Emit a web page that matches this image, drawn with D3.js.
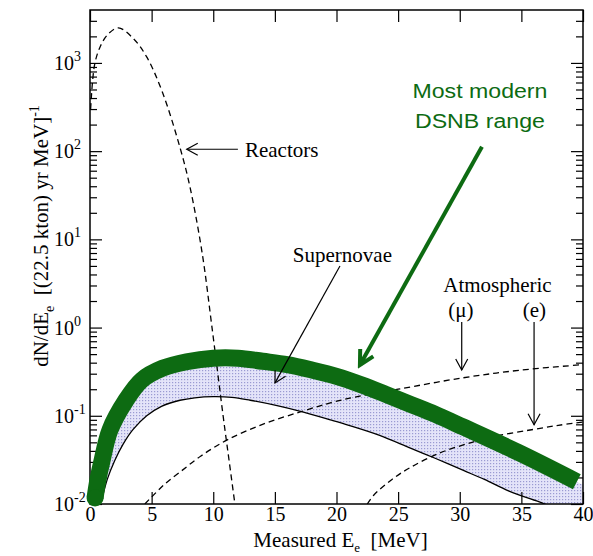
<!DOCTYPE html>
<html><head><meta charset="utf-8">
<script src="https://cdn.jsdelivr.net/npm/d3@7"></script>
<style>body{margin:0;background:#fff}</style>
</head><body><svg id="c" width="593" height="556"></svg>
<script>
// ---- data ----
const xTicks = [0,5,10,15,20,25,30,35,40];
const yTickExps = [-2,-1,0,1,2,3];

const reactorE = [0.05,0.2,0.4,0.8,1.4,2.3,3.5,4.6,5.9,7.3,8.1,9.1,9.9,10.8,11.3,11.8];
const reactorV = [300,600,1000,1500,2070,2500,1900,1170,456,110,40,7,1,0.1,0.03,0.009];

const atmMuE = [4.45,5,6,7.3,9,11.1,14,17,19.5,21.6,25,30.3,35,40];
const atmMuV = [0.01,0.012,0.0165,0.023,0.035,0.053,0.08,0.11,0.14,0.164,0.2,0.27,0.33,0.38];

const atmEE = [22.5,23,24.5,26,28.4,31,33,35.7,38,40];
const atmEV = [0.01,0.0125,0.019,0.026,0.038,0.05,0.059,0.069,0.078,0.085];

const snLowE = [0.95,1.4,2,2.7,3.5,4.6,5.8,7.3,8.5,10,11.5,13,15,17,19.5,21,23.5,26,28,30.3,32,34,36.9,40];
const snLowV = [0.011,0.019,0.031,0.048,0.07,0.1,0.128,0.15,0.16,0.165,0.162,0.15,0.132,0.113,0.09,0.078,0.06,0.043,0.033,0.024,0.019,0.014,0.01,0.0068];

const dsnbE = [0.41,0.65,0.93,1.62,2.92,4.2,5.9,7.85,10,12,14,16,18,20,22,24,26,28,30.25,35,39.5];
const dsnbV = [0.0117,0.019,0.029,0.069,0.15,0.254,0.346,0.41,0.45,0.45,0.415,0.38,0.33,0.28,0.225,0.175,0.135,0.104,0.075,0.037,0.0179];
const bandEndE = 40, bandEndV = 0.0165;

// ---- layout ----
const W = 593, H = 556, m = {l:90, r:10, t:10, b:52};
const svg = d3.select("#c");
const x = d3.scaleLinear().domain([0,40]).range([m.l, W-m.r]);
const y = d3.scaleLog().domain([0.01, Math.pow(10,3.6)]).range([H-m.b, m.t]);
const serif = "'Liberation Serif','Times New Roman',serif";
const sans = "'Liberation Sans',Arial,sans-serif";
const green = "#0d6b12";

const defs = svg.append("defs");
defs.append("clipPath").attr("id","clip").append("rect")
  .attr("x",m.l).attr("y",m.t).attr("width",W-m.l-m.r).attr("height",H-m.t-m.b);
const pat = defs.append("pattern").attr("id","dots").attr("patternUnits","userSpaceOnUse")
  .attr("width",3).attr("height",3);
pat.append("rect").attr("width",3).attr("height",3).attr("fill","#e4e4f9");
pat.append("rect").attr("x",1).attr("y",1).attr("width",1.2).attr("height",1.2).attr("fill","#9a9ad2");

function marker(id, len, hw, color, sw){
  defs.append("marker").attr("id",id).attr("markerUnits","userSpaceOnUse")
    .attr("viewBox",`${-len-4} ${-hw-4} ${len+8} ${2*hw+8}`)
    .attr("markerWidth",len+8).attr("markerHeight",2*hw+8)
    .attr("refX",0).attr("refY",0).attr("orient","auto")
    .append("path").attr("d",`M${-len},${-hw}L0,0L${-len},${hw}`)
    .attr("fill","none").attr("stroke",color).attr("stroke-width",sw);
}
marker("arr",11,6,"#000",1.2);
marker("garr",14,7.5,green,4);

const zip = (a,b)=>a.map((v,i)=>[v,b[i]]);
const line = d3.line().x(d=>x(d[0])).y(d=>y(d[1])).curve(d3.curveCatmullRom.alpha(0.5));

const plot = svg.append("g").attr("clip-path","url(#clip)");

// supernova band fill
const upper = zip(dsnbE,dsnbV).concat([[bandEndE,bandEndV]]);
const lower = zip(snLowE,snLowV);
const fillD = line(upper) + line(lower.slice().reverse()).replace(/^M/,"L") + "Z";
plot.append("path").attr("d",fillD).attr("fill","url(#dots)");
plot.append("path").attr("d",line(lower)).attr("fill","none").attr("stroke","#000").attr("stroke-width",1.3);

// dashed curves
[[reactorE,reactorV],[atmMuE,atmMuV],[atmEE,atmEV]].forEach(([e,v])=>{
  plot.append("path").attr("d",line(zip(e,v))).attr("fill","none")
    .attr("stroke","#000").attr("stroke-width",1.3).attr("stroke-dasharray","6,4");
});

// ---- axes ----
const majors = yTickExps.map(k=>Math.pow(10,k));
const minors = [];
yTickExps.forEach(k=>{ for(let i=2;i<10;i++){ const v=i*Math.pow(10,k); if(v<=y.domain()[1]) minors.push(v);} });

function styleAxis(g){ g.select(".domain").remove(); g.selectAll("line").attr("stroke","#000").attr("stroke-width",1.2); }

svg.append("g").attr("transform",`translate(0,${H-m.b})`)
  .call(d3.axisBottom(x).tickValues(xTicks).tickSize(-12).tickPadding(3).tickFormat(d3.format("d")))
  .call(styleAxis)
  .call(g=>g.selectAll("text").attr("font-family",serif).attr("font-size",20).attr("fill","#000"));
svg.append("g").attr("transform",`translate(0,${m.t})`)
  .call(d3.axisTop(x).tickValues(xTicks).tickSize(-12).tickFormat(""))
  .call(styleAxis);
[[d3.axisLeft,m.l],[d3.axisRight,W-m.r]].forEach(([ax,pos])=>{
  svg.append("g").attr("transform",`translate(${pos},0)`)
    .call(ax(y).tickValues(majors).tickSize(-12).tickFormat("")).call(styleAxis);
  svg.append("g").attr("transform",`translate(${pos},0)`)
    .call(ax(y).tickValues(minors).tickSize(-7).tickFormat("")).call(styleAxis);
});

yTickExps.forEach(k=>{
  const t = svg.append("text").attr("x",54).attr("y",y(Math.pow(10,k))+7)
    .attr("font-family",serif).attr("font-size",20).attr("fill","#000");
  t.append("tspan").text("10");
  t.append("tspan").attr("dy",-9).attr("font-size",14).text(String(k));
});

svg.append("rect").attr("x",m.l).attr("y",m.t).attr("width",W-m.l-m.r).attr("height",H-m.t-m.b)
  .attr("fill","none").attr("stroke","#000").attr("stroke-width",1.5);

// green DSNB band (drawn over the frame, as in the reference)
svg.append("path").attr("d",line(zip(dsnbE,dsnbV))).attr("fill","none")
  .attr("stroke",green).attr("stroke-width",17).attr("stroke-linecap","butt");
svg.append("circle").attr("cx",x(dsnbE[0])).attr("cy",y(dsnbV[0])).attr("r",8.5).attr("fill",green);

// axis titles
const xt = svg.append("text").attr("x",(m.l+W-m.r)/2+4).attr("y",547).attr("text-anchor","middle")
  .attr("font-family",serif).attr("font-size",21);
xt.append("tspan").text("Measured E");
xt.append("tspan").attr("dy",5).attr("font-size",13).text("e");
xt.append("tspan").attr("dy",-5).text("\u00a0 [MeV]");

const yt = svg.append("text").attr("transform","translate(48,236) rotate(-90)").attr("text-anchor","middle")
  .attr("font-family",serif).attr("font-size",21);
yt.append("tspan").text("dN/dE");
yt.append("tspan").attr("dy",6).attr("font-size",14).text("e");
yt.append("tspan").attr("dy",-6).text("\u00a0 [(22.5 kton) yr MeV]");
yt.append("tspan").attr("dy",-9).attr("font-size",14).text("-1");

// ---- annotations (data coordinates) ----
function arrow(e1,v1,e2,v2,mk,color,sw){
  svg.append("line").attr("x1",x(e1)).attr("y1",y(v1)).attr("x2",x(e2)).attr("y2",y(v2))
    .attr("stroke",color).attr("stroke-width",sw).attr("marker-end",`url(#${mk})`);
}
function label(e,v,txt,anchor,font,size,color,len){
  const t = svg.append("text").attr("x",x(e)).attr("y",y(v)).attr("text-anchor",anchor)
    .attr("font-family",font).attr("font-size",size).attr("fill",color).text(txt);
  if(len) t.attr("textLength",len).attr("lengthAdjust","spacingAndGlyphs");
}
arrow(12.0,105,7.85,105,"arr","#000",1.2);
label(12.57,105*Math.pow(10,-7.5/88.2),"Reactors","start",serif,21,"#000");

label(20.48,5.55,"Supernovae","middle",serif,21,"#000");
arrow(20.28,4.99,15.01,0.236,"arr","#000",1.2);

label(33.06,2.53,"Atmospheric","middle",serif,21,"#000");
label(30.1,1.32,"(\u03bc)","middle",serif,21,"#000");
label(36.05,1.32,"(e)","middle",serif,21,"#000");
arrow(30.16,1.16,30.16,0.33,"arr","#000",1.2);
arrow(36.03,1.16,36.03,0.079,"arr","#000",1.2);

arrow(31.8,112,21.9,0.377,"garr",green,4);
label(31.64,401,"Most modern","middle",sans,20,green,135);
label(31.64,183,"DSNB range","middle",sans,20,green,130);
</script></body></html>
